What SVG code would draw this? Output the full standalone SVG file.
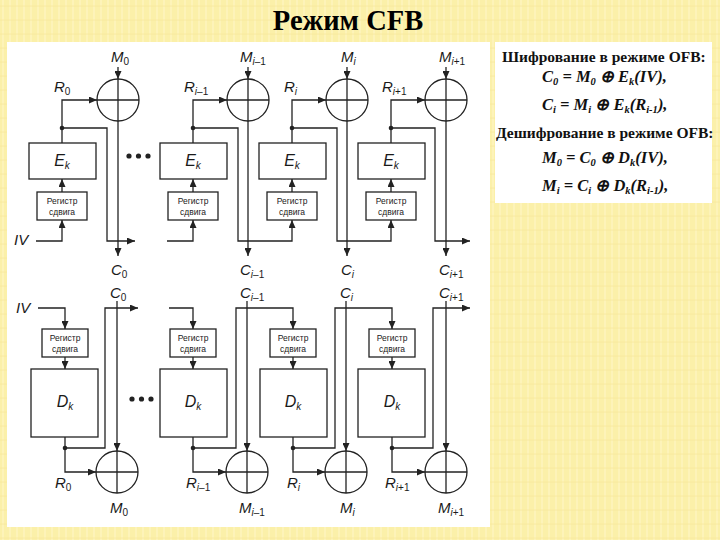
<svg xmlns="http://www.w3.org/2000/svg" width="720" height="540" viewBox="0 0 720 540">
<defs>
<pattern id="tex" width="14" height="14" patternUnits="userSpaceOnUse">
<rect width="14" height="14" fill="#FBF0A9"/>
<path d="M3,0 V14 M10,0 V14" stroke="#FFF6C4" stroke-width="1.2"/>
<path d="M0,6 H14" stroke="#F6E79A" stroke-width="0.8"/>
</pattern>
<marker id="ah" markerWidth="8" markerHeight="7" refX="8" refY="3.5" orient="auto" markerUnits="userSpaceOnUse">
<path d="M0,0 L8,3.5 L0,7 z" fill="#222"/>
</marker>
</defs>
<style>
.ln{fill:none;stroke:#222;stroke-width:1.3}
.ar{marker-end:url(#ah)}
.bx{fill:#fff;stroke:#222;stroke-width:1.3}
.dot{fill:#222}
.lb{font-family:"Liberation Sans",Arial,sans-serif;font-style:italic;font-size:15px;fill:#1a1a1a}
.sb{font-size:10px}
.rg{font-family:"Liberation Sans",Arial,sans-serif;font-size:8.5px;fill:#222;text-anchor:middle}
.ek{font-family:"Liberation Sans",Arial,sans-serif;font-style:italic;font-size:16px;fill:#1a1a1a;text-anchor:middle}
.hd{font-family:"Liberation Serif","Times New Roman",serif;font-weight:bold;font-size:15.5px;fill:#111}
.fm{font-family:"Liberation Serif","Times New Roman",serif;font-style:italic;font-weight:bold;font-size:16.5px;fill:#111}
.fs{font-size:10.5px}
</style>
<rect width="720" height="540" fill="url(#tex)"/>
<text x="348" y="30" text-anchor="middle" font-family="'Liberation Serif','Times New Roman',serif" font-weight="bold" font-size="28.5" fill="#000">Режим CFB</text>
<rect x="7" y="42" width="483" height="485" fill="#fff"/>
<rect x="495" y="42" width="217" height="161" fill="#fff"/>

<!-- formulas -->
<g id="formulas">
<text class="hd" x="502" y="62">Шифрование в режиме OFB:</text>
<text class="fm" x="542" y="82">C<tspan class="fs" dy="3">0</tspan><tspan dy="-3"> = M</tspan><tspan class="fs" dy="3">0</tspan><tspan dy="-3"> ⊕ E</tspan><tspan class="fs" dy="3">k</tspan><tspan dy="-3">(IV),</tspan></text>
<text class="fm" x="542" y="110">C<tspan class="fs" dy="3">i</tspan><tspan dy="-3"> = M</tspan><tspan class="fs" dy="3">i</tspan><tspan dy="-3"> ⊕ E</tspan><tspan class="fs" dy="3">k</tspan><tspan dy="-3">(R</tspan><tspan class="fs" dy="3">i-1</tspan><tspan dy="-3">),</tspan></text>
<text class="hd" x="496" y="138">Дешифрование в режиме OFB:</text>
<text class="fm" x="542" y="163">M<tspan class="fs" dy="3">0</tspan><tspan dy="-3"> = C</tspan><tspan class="fs" dy="3">0</tspan><tspan dy="-3"> ⊕ D</tspan><tspan class="fs" dy="3">k</tspan><tspan dy="-3">(IV),</tspan></text>
<text class="fm" x="542" y="191">M<tspan class="fs" dy="3">i</tspan><tspan dy="-3"> = C</tspan><tspan class="fs" dy="3">i</tspan><tspan dy="-3"> ⊕ D</tspan><tspan class="fs" dy="3">k</tspan><tspan dy="-3">(R</tspan><tspan class="fs" dy="3">i-1</tspan><tspan dy="-3">),</tspan></text>
</g>

<!-- ===== Encryption nodes ===== -->
<g id="enc-xor-0"><circle class="bx" cx="118" cy="100" r="21"/><path class="ln" d="M97,100 H139"/></g>
<g id="enc-xor-1"><circle class="bx" cx="248" cy="100" r="21"/><path class="ln" d="M227,100 H269"/></g>
<g id="enc-xor-2"><circle class="bx" cx="347" cy="100" r="21"/><path class="ln" d="M326,100 H368"/></g>
<g id="enc-xor-3"><circle class="bx" cx="446" cy="100" r="21"/><path class="ln" d="M425,100 H467"/></g>

<g id="enc-ek-0"><rect class="bx" x="29" y="143" width="67" height="36"/><text class="ek" x="62" y="166">E<tspan class="sb" dy="3">k</tspan></text></g>
<g id="enc-ek-1"><rect class="bx" x="160" y="143" width="67" height="36"/><text class="ek" x="193" y="166">E<tspan class="sb" dy="3">k</tspan></text></g>
<g id="enc-ek-2"><rect class="bx" x="259" y="143" width="67" height="36"/><text class="ek" x="292" y="166">E<tspan class="sb" dy="3">k</tspan></text></g>
<g id="enc-ek-3"><rect class="bx" x="358" y="143" width="67" height="36"/><text class="ek" x="391" y="166">E<tspan class="sb" dy="3">k</tspan></text></g>

<g id="enc-reg-0"><rect class="bx" x="37" y="192" width="50" height="28"/><text class="rg" x="62" y="204">Регистр</text><text class="rg" x="62" y="215">сдвига</text></g>
<g id="enc-reg-1"><rect class="bx" x="168" y="192" width="50" height="28"/><text class="rg" x="193" y="204">Регистр</text><text class="rg" x="193" y="215">сдвига</text></g>
<g id="enc-reg-2"><rect class="bx" x="267" y="192" width="50" height="28"/><text class="rg" x="292" y="204">Регистр</text><text class="rg" x="292" y="215">сдвига</text></g>
<g id="enc-reg-3"><rect class="bx" x="366" y="192" width="50" height="28"/><text class="rg" x="391" y="204">Регистр</text><text class="rg" x="391" y="215">сдвига</text></g>

<!-- ===== Decryption nodes ===== -->
<g id="dec-xor-0"><circle class="bx" cx="117" cy="472" r="21"/><path class="ln" d="M96,472 H138"/></g>
<g id="dec-xor-1"><circle class="bx" cx="247" cy="472" r="21"/><path class="ln" d="M226,472 H268"/></g>
<g id="dec-xor-2"><circle class="bx" cx="346" cy="472" r="21"/><path class="ln" d="M325,472 H367"/></g>
<g id="dec-xor-3"><circle class="bx" cx="446" cy="472" r="21"/><path class="ln" d="M425,472 H467"/></g>

<g id="dec-dk-0"><rect class="bx" x="31" y="369" width="67" height="68"/><text class="ek" x="65" y="407">D<tspan class="sb" dy="3">k</tspan></text></g>
<g id="dec-dk-1"><rect class="bx" x="160" y="369" width="67" height="68"/><text class="ek" x="193" y="407">D<tspan class="sb" dy="3">k</tspan></text></g>
<g id="dec-dk-2"><rect class="bx" x="260" y="369" width="67" height="68"/><text class="ek" x="293" y="407">D<tspan class="sb" dy="3">k</tspan></text></g>
<g id="dec-dk-3"><rect class="bx" x="358" y="369" width="67" height="68"/><text class="ek" x="392" y="407">D<tspan class="sb" dy="3">k</tspan></text></g>

<g id="dec-reg-0"><rect class="bx" x="42" y="329" width="46" height="28"/><text class="rg" x="65" y="341">Регистр</text><text class="rg" x="65" y="352">сдвига</text></g>
<g id="dec-reg-1"><rect class="bx" x="170" y="329" width="46" height="28"/><text class="rg" x="193" y="341">Регистр</text><text class="rg" x="193" y="352">сдвига</text></g>
<g id="dec-reg-2"><rect class="bx" x="270" y="329" width="46" height="28"/><text class="rg" x="293" y="341">Регистр</text><text class="rg" x="293" y="352">сдвига</text></g>
<g id="dec-reg-3"><rect class="bx" x="369" y="329" width="46" height="28"/><text class="rg" x="392" y="341">Регистр</text><text class="rg" x="392" y="352">сдвига</text></g>

<!-- ===== Connectors ===== -->
<g id="connectors">
<!-- encryption -->
<path class="ln ar" d="M118,67 V79"/><path class="ln ar" d="M248,67 V79"/><path class="ln ar" d="M347,67 V79"/><path class="ln ar" d="M446,67 V79"/>
<path class="ln ar" d="M118,79 V256"/><path class="ln ar" d="M248,79 V256"/><path class="ln ar" d="M347,79 V256"/><path class="ln ar" d="M446,79 V256"/>
<path class="ln ar" d="M62,143 V100 H97"/><path class="ln ar" d="M193,143 V100 H227"/><path class="ln ar" d="M292,143 V100 H326"/><path class="ln ar" d="M391,143 V100 H425"/>
<path class="ln ar" d="M62,192 V179"/><path class="ln ar" d="M193,192 V179"/><path class="ln ar" d="M292,192 V179"/><path class="ln ar" d="M391,192 V179"/>
<path class="ln ar" d="M36,241 H62 V220"/>
<path class="ln ar" d="M167,241 H193 V220"/>
<path class="ln ar" d="M62,128 H107 V241 H135"/>
<path class="ln ar" d="M193,128 H238 V241 H292 V220"/>
<path class="ln ar" d="M292,128 H337 V241 H391 V220"/>
<path class="ln ar" d="M391,128 H435 V241 H470"/>
<circle class="dot" cx="62" cy="128" r="2.3"/><circle class="dot" cx="193" cy="128" r="2.3"/><circle class="dot" cx="292" cy="128" r="2.3"/><circle class="dot" cx="391" cy="128" r="2.3"/>
<!-- decryption -->
<path class="ln ar" d="M117,301 V451"/><path class="ln ar" d="M247,301 V451"/><path class="ln ar" d="M346,301 V451"/><path class="ln ar" d="M446,301 V451"/>
<path class="ln" d="M117,451 V493 M247,451 V493 M346,451 V493 M446,451 V493"/>
<path class="ln ar" d="M38,308 H65 V329"/>
<path class="ln ar" d="M169,308 H193 V329"/>
<path class="ln ar" d="M65,357 V369"/><path class="ln ar" d="M193,357 V369"/><path class="ln ar" d="M293,357 V369"/><path class="ln ar" d="M392,357 V369"/>
<path class="ln ar" d="M65,437 V472 H96"/><path class="ln ar" d="M193,437 V472 H226"/><path class="ln ar" d="M293,437 V472 H325"/><path class="ln ar" d="M392,437 V472 H425"/>
<path class="ln ar" d="M65,448 H105 V308 H138"/>
<path class="ln ar" d="M193,448 H236 V308 H293 V329"/>
<path class="ln ar" d="M293,448 H335 V308 H392 V329"/>
<path class="ln ar" d="M392,448 H433 V308 H470"/>
<circle class="dot" cx="65" cy="448" r="2.3"/><circle class="dot" cx="193" cy="448" r="2.3"/><circle class="dot" cx="293" cy="448" r="2.3"/><circle class="dot" cx="392" cy="448" r="2.3"/>
</g>

<!-- ellipsis -->
<g id="ellipsis" class="dot"><circle cx="129" cy="156" r="2.6"/><circle cx="138.5" cy="156" r="2.6"/><circle cx="148" cy="156" r="2.6"/>
<circle cx="132" cy="399" r="2.6"/><circle cx="141.5" cy="399" r="2.6"/><circle cx="151" cy="399" r="2.6"/></g>

<!-- labels -->
<g id="labels">
<text class="lb" x="111" y="62">M<tspan class="sb" dy="3" font-style="normal">0</tspan></text>
<text class="lb" x="240" y="62">M<tspan class="sb" dy="3">i</tspan><tspan class="sb" font-style="normal">–1</tspan></text>
<text class="lb" x="341" y="62">M<tspan class="sb" dy="3">i</tspan></text>
<text class="lb" x="439" y="62">M<tspan class="sb" dy="3">i</tspan><tspan class="sb" font-style="normal">+1</tspan></text>
<text class="lb" x="54" y="92">R<tspan class="sb" dy="3" font-style="normal">0</tspan></text>
<text class="lb" x="184" y="92">R<tspan class="sb" dy="3">i</tspan><tspan class="sb" font-style="normal">–1</tspan></text>
<text class="lb" x="284" y="92">R<tspan class="sb" dy="3">i</tspan></text>
<text class="lb" x="382" y="92">R<tspan class="sb" dy="3">i</tspan><tspan class="sb" font-style="normal">+1</tspan></text>
<text class="lb" x="14" y="245">IV</text>
<text class="lb" x="111" y="275">C<tspan class="sb" dy="3" font-style="normal">0</tspan></text>
<text class="lb" x="240" y="275">C<tspan class="sb" dy="3">i</tspan><tspan class="sb" font-style="normal">–1</tspan></text>
<text class="lb" x="341" y="275">C<tspan class="sb" dy="3">i</tspan></text>
<text class="lb" x="439" y="275">C<tspan class="sb" dy="3">i</tspan><tspan class="sb" font-style="normal">+1</tspan></text>

<text class="lb" x="16" y="313">IV</text>
<text class="lb" x="110" y="298">C<tspan class="sb" dy="3" font-style="normal">0</tspan></text>
<text class="lb" x="240" y="298">C<tspan class="sb" dy="3">i</tspan><tspan class="sb" font-style="normal">–1</tspan></text>
<text class="lb" x="340" y="298">C<tspan class="sb" dy="3">i</tspan></text>
<text class="lb" x="439" y="298">C<tspan class="sb" dy="3">i</tspan><tspan class="sb" font-style="normal">+1</tspan></text>
<text class="lb" x="55" y="488">R<tspan class="sb" dy="3" font-style="normal">0</tspan></text>
<text class="lb" x="186" y="488">R<tspan class="sb" dy="3">i</tspan><tspan class="sb" font-style="normal">–1</tspan></text>
<text class="lb" x="287" y="488">R<tspan class="sb" dy="3">i</tspan></text>
<text class="lb" x="385" y="488">R<tspan class="sb" dy="3">i</tspan><tspan class="sb" font-style="normal">+1</tspan></text>
<text class="lb" x="110" y="513">M<tspan class="sb" dy="3" font-style="normal">0</tspan></text>
<text class="lb" x="239" y="513">M<tspan class="sb" dy="3">i</tspan><tspan class="sb" font-style="normal">–1</tspan></text>
<text class="lb" x="340" y="513">M<tspan class="sb" dy="3">i</tspan></text>
<text class="lb" x="438" y="513">M<tspan class="sb" dy="3">i</tspan><tspan class="sb" font-style="normal">+1</tspan></text>
</g>
</svg>
